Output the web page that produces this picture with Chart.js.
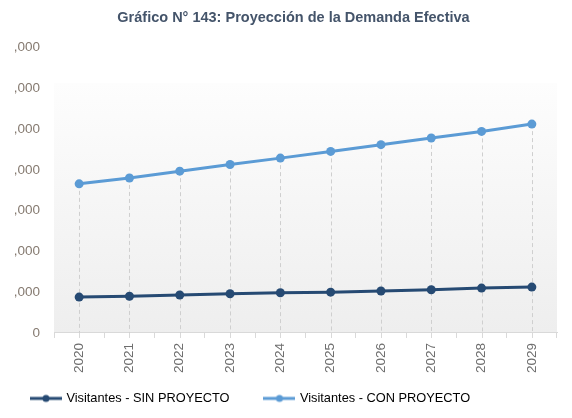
<!DOCTYPE html>
<html>
<head>
<meta charset="utf-8">
<script src="https://cdn.jsdelivr.net/npm/chart.js@4/dist/chart.umd.min.js"></script>
<style>
  html, body { margin: 0; padding: 0; background: #ffffff; }
  #wrap { width: 572px; height: 418px; }
</style>
</head>
<body>
<div id="wrap"><canvas id="c" width="572" height="418"></canvas></div>
<script>
const years = ['2020','2021','2022','2023','2024','2025','2026','2027','2028','2029'];
const sinProyecto = [0.88, 0.90, 0.93, 0.96, 0.985, 1.00, 1.03, 1.06, 1.10, 1.125];
const conProyecto = [3.655, 3.80, 3.966, 4.13, 4.286, 4.45, 4.616, 4.78, 4.94, 5.12];
const yTickLabels = ['0', ',000', ',000', ',000', ',000', ',000', ',000', ',000'];
const titleText = 'Gráfico N° 143: Proyección de la Demanda Efectiva';
const seriesNames = ['Visitantes - SIN PROYECTO', 'Visitantes - CON PROYECTO'];

const darkColor = '#264a73';
const lightColor = '#5b9bd5';

function legendMarker(color) {
  const cv = document.createElement('canvas');
  cv.width = 32; cv.height = 10;
  const g = cv.getContext('2d');
  g.strokeStyle = color; g.lineWidth = 3;
  g.beginPath(); g.moveTo(0, 5); g.lineTo(32, 5); g.stroke();
  g.fillStyle = color;
  g.beginPath(); g.arc(16, 5, 3.5, 0, Math.PI * 2); g.fill();
  return cv;
}

const backdrop = {
  id: 'backdrop',
  beforeDraw(chart) {
    const a = chart.chartArea, ctx = chart.ctx;
    const top = a.top + a.height * 0.125;
    const grad = ctx.createLinearGradient(0, top, 0, a.bottom);
    grad.addColorStop(0, '#fdfdfd');
    grad.addColorStop(1, '#eeeeee');
    ctx.save();
    ctx.fillStyle = grad;
    ctx.fillRect(a.left, top, a.right - a.left, a.bottom - top);
    ctx.restore();
  }
};

const dropLines = {
  id: 'dropLines',
  beforeDatasetsDraw(chart) {
    const meta = chart.getDatasetMeta(1);
    const ctx = chart.ctx, a = chart.chartArea;
    ctx.save();
    ctx.strokeStyle = '#cfcfcf';
    ctx.lineWidth = 1;
    ctx.setLineDash([4, 3]);
    meta.data.forEach(p => {
      const x = Math.round(p.x) + 0.5;
      ctx.beginPath(); ctx.moveTo(x, p.y); ctx.lineTo(x, a.bottom); ctx.stroke();
    });
    ctx.setLineDash([]);
    ctx.strokeStyle = '#d9d9d9';
    meta.data.forEach(p => {
      const x = Math.round(p.x) + 0.5;
      ctx.beginPath(); ctx.moveTo(x, a.bottom); ctx.lineTo(x, a.bottom + 5); ctx.stroke();
    });
    ctx.restore();
  }
};

const blockShift = {
  id: 'blockShift',
  afterLayout(chart) {
    if (chart.legend) {
      chart.legend.left = -4;
      chart.legend.top = 356;
      chart.legend.bottom = chart.height;
      chart.legend.height = chart.height - 356;
    }
    if (chart.titleBlock) {
      chart.titleBlock.left = 30;
    }
  }
};

new Chart(document.getElementById('c'), {
  type: 'line',
  data: {
    labels: years,
    datasets: [
      {
        label: seriesNames[0], data: sinProyecto,
        borderColor: darkColor, backgroundColor: darkColor,
        borderWidth: 3, pointRadius: 4.5, pointBackgroundColor: darkColor,
        pointBorderWidth: 0, tension: 0
      },
      {
        label: seriesNames[1], data: conProyecto,
        borderColor: lightColor, backgroundColor: lightColor,
        borderWidth: 3, pointRadius: 4.5, pointBackgroundColor: lightColor,
        pointBorderWidth: 0, tension: 0
      }
    ]
  },
  options: {
    responsive: false,
    animation: false,
    devicePixelRatio: 1,
    layout: { padding: { left: 0, right: 15, top: 0, bottom: 3 } },
    plugins: {
      title: {
        display: true, text: titleText, color: '#44546a',
        font: { family: 'Liberation Sans', size: 14.5, weight: 'bold' },
        padding: { top: 9, bottom: 21 }
      },
      legend: {
        position: 'bottom',
        align: 'start',
        maxHeight: 37,
        labels: {
          font: { family: 'Liberation Sans', size: 12.8 },
          color: '#1a1a1a',
          usePointStyle: true,
          pointStyleWidth: 28,
          boxHeight: 10,
          padding: 36,
          generateLabels(chart) {
            return chart.data.datasets.map((ds, i) => ({
              text: ds.label, fillStyle: ds.borderColor, strokeStyle: ds.borderColor,
              lineWidth: 0, pointStyle: legendMarker(ds.borderColor), datasetIndex: i, hidden: false
            }));
          }
        }
      },
      tooltip: { enabled: false }
    },
    scales: {
      x: {
        offset: true,
        grid: { display: true, drawOnChartArea: false, drawTicks: true, tickLength: 5, color: '#d9d9d9', offset: true },
        border: { display: true, color: '#d9d9d9', width: 1 },
        ticks: {
          color: '#6e6e6e', font: { family: 'Liberation Sans', size: 13.5 },
          minRotation: 90, maxRotation: 90, padding: 5
        }
      },
      y: {
        min: 0, max: 7,
        afterFit(scale) { scale.width = 54; },
        grid: { display: false, drawTicks: false },
        border: { display: false },
        ticks: {
          stepSize: 1, padding: 14,
          color: '#857a70', font: { family: 'Liberation Sans', size: 13.5 },
          callback(v, i) { return yTickLabels[i]; }
        }
      }
    }
  },
  plugins: [backdrop, dropLines, blockShift]
});
</script>
</body>
</html>
